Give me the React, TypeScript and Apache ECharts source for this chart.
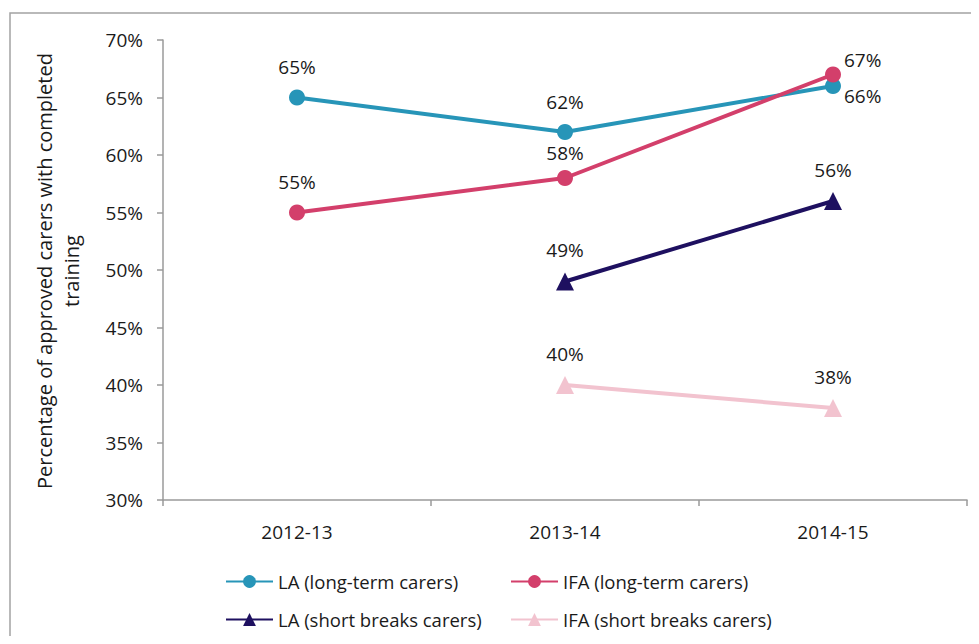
import React, { useEffect, useRef } from "react";
import * as echarts from "echarts";

const categories = ["2012-13", "2013-14", "2014-15"];
const yTicks = [30, 35, 40, 45, 50, 55, 60, 65, 70];
const laLongTerm = [65, 62, 66];
const ifaLongTerm = [55, 58, 67];
const laShortBreaks = [null, 49, 56];
const ifaShortBreaks = [null, 40, 38];
const seriesNames = [
  "LA (long-term carers)",
  "IFA (long-term carers)",
  "LA (short breaks carers)",
  "IFA (short breaks carers)",
];
const yAxisTitle = ["Percentage of approved carers with completed", "training"];

const FONT = "Open Sans";
const TXT = "#1a1a1a";
const colors = ["#2795b8", "#d33f6b", "#1e1060", "#f2c3cf"];
const symbols = ["circle", "circle", "triangle", "triangle"];

export default function App() {
  const ref = useRef<HTMLDivElement>(null);
  useEffect(() => {
    if (!ref.current) return;
    const chart = echarts.init(ref.current, undefined, { renderer: "svg" });
    const allData = [laLongTerm, ifaLongTerm, laShortBreaks, ifaShortBreaks];
    const overrides: Record<string, any> = {
      "0-2": { position: "right", distance: 3, offset: [0, 10] },
      "1-2": { position: "right", distance: 3, offset: [0, -15] },
      "1-1": { offset: [0, 5] },
    };
    const series = allData.map((arr, si) => ({
      name: seriesNames[si],
      type: "line",
      data: arr.map((v, di) => {
        if (v === null) return "-";
        const o = overrides[`${si}-${di}`];
        return o ? { value: v, label: o } : v;
      }),
      symbol: symbols[si],
      symbolSize: si < 2 ? 16 : 18,
      lineStyle: { color: colors[si], width: 4 },
      itemStyle: { color: colors[si] },
      connectNulls: false,
      label: {
        show: true,
        position: "top",
        distance: 13,
        formatter: "{c}%",
        fontFamily: FONT,
        fontSize: 19,
        color: TXT,
      },
    }));
    const legendLefts = [220, 505, 220, 505];
    const legendTops = [567, 567, 605, 605];
    const legends = seriesNames.map((n, i) => ({
      data: [n],
      left: legendLefts[i],
      top: legendTops[i],
      orient: "horizontal",
      itemWidth: 47,
      itemHeight: 16,
      itemGap: 5,
      selectedMode: false,
      textStyle: { fontFamily: FONT, fontSize: 18.5, color: TXT },
    }));
    chart.setOption({
      animation: false,
      backgroundColor: "#ffffff",
      grid: { left: 163, right: 12, top: 40, bottom: 144 },
      legend: legends,
      xAxis: {
        type: "category",
        data: categories,
        boundaryGap: true,
        axisLine: { lineStyle: { color: "#9a9a9a", width: 1.5 } },
        axisTick: { show: true, length: 6, lineStyle: { color: "#9a9a9a", width: 1.5 } },
        axisLabel: { fontFamily: FONT, fontSize: 19, color: TXT, margin: 22 },
      },
      yAxis: {
        type: "value",
        min: yTicks[0],
        max: yTicks[yTicks.length - 1],
        interval: 5,
        axisLine: { show: true, lineStyle: { color: "#9a9a9a", width: 1.5 } },
        axisTick: { show: true, length: 6, lineStyle: { color: "#9a9a9a", width: 1.5 } },
        splitLine: { show: false },
        axisLabel: {
          fontFamily: FONT,
          fontSize: 19,
          color: TXT,
          margin: 20,
          formatter: "{value}%",
        },
      },
      graphic: [
        {
          type: "rect",
          shape: { x: 10, y: 13, width: 2000, height: 2000 },
          style: { fill: "none", stroke: "#a3a3a3", lineWidth: 1.5 },
          silent: true,
          z: -10,
        },
        {
          type: "text",
          x: 58,
          y: 271,
          rotation: Math.PI / 2,
          style: {
            text: yAxisTitle.join("\n"),
            fontFamily: FONT,
            fontSize: 20,
            lineHeight: 27,
            fill: TXT,
            align: "center",
            verticalAlign: "middle",
          },
        },
      ],
      series,
    });
    return () => chart.dispose();
  }, []);
  return <div ref={ref} style={{ width: 979, height: 644, margin: -8 }} />;
}
